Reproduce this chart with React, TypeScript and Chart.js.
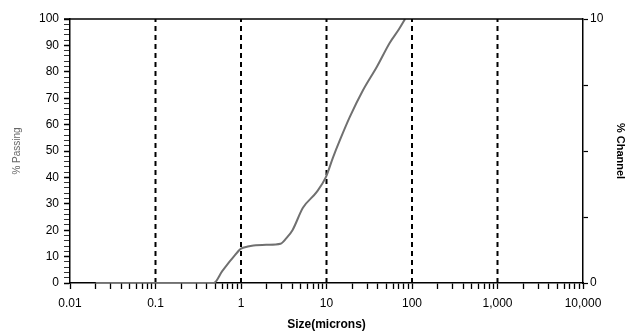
import React, { useEffect, useRef } from 'react';
import { Chart, registerables } from 'chart.js';

Chart.register(...registerables);

// Cumulative passing curve (size in microns, % passing)
const sizes = [0.02, 0.05, 0.1, 0.2, 0.3, 0.4, 0.48, 0.6, 0.69, 0.8, 1.0, 1.2, 1.4, 2.0, 2.9, 3.4, 4.0, 5.3, 7.7, 9.8, 11.9, 14.3, 18.8, 26.7, 39, 55, 70, 83];
const passing = [0, 0, 0, 0, 0, 0, 0, 4.4, 7, 9.5, 13, 13.8, 14.2, 14.5, 14.9, 17, 20, 28.5, 34.5, 40, 47.5, 54, 63, 73, 82, 91, 96, 100];

// Decade reference lines (dashed)
const vLineSizes = [0.1, 1, 10, 100, 1000];

// Axis tick labels
const xDecades = [0.01, 0.1, 1, 10, 100, 1000, 10000];
const xDecadeLabels = ['0.01', '0.1', '1', '10', '100', '1,000', '10,000'];
const leftMax = 100;
const rightMax = 10;
const rightLabels = ['0', '10'];

const FONT = '"Liberation Sans", Arial, sans-serif';

const framePlugin = {
  id: 'frameTop',
  afterDatasetsDraw(chart: any) {
    const { ctx, chartArea } = chart;
    ctx.save();
    ctx.strokeStyle = '#000';
    ctx.lineWidth = 1.5;
    ctx.beginPath();
    ctx.moveTo(chartArea.left - 6, chartArea.top);
    ctx.lineTo(chartArea.right, chartArea.top);
    ctx.stroke();
    ctx.restore();
  },
};

export default function App() {
  const ref = useRef<HTMLCanvasElement | null>(null);

  useEffect(() => {
    if (!ref.current) return;
    const vDatasets = vLineSizes.map((v) => ({
      type: 'line' as const,
      data: [
        { x: v, y: 0 },
        { x: v, y: leftMax },
      ],
      borderColor: '#000',
      borderWidth: 2,
      borderDash: [5, 4],
      pointRadius: 0,
      yAxisID: 'y',
      xAxisID: 'x',
      order: 2,
    }));

    const chart = new Chart(ref.current, {
      type: 'line',
      data: {
        datasets: [
          {
            label: '% Passing',
            data: sizes.map((s, i) => ({ x: s, y: passing[i] })),
            borderColor: '#707070',
            borderWidth: 2,
            pointRadius: 0,
            cubicInterpolationMode: 'monotone',
            yAxisID: 'y',
            xAxisID: 'x',
            order: 1,
          },
          ...vDatasets,
        ] as any,
      },
      options: {
        animation: false,
        responsive: false,
        maintainAspectRatio: false,
        layout: { padding: { top: 19, left: 0, right: 0, bottom: 0 } },
        plugins: {
          legend: { display: false },
          tooltip: { enabled: false },
        },
        scales: {
          x: {
            type: 'logarithmic',
            position: 'bottom',
            min: 0.01,
            max: 10000,
            afterBuildTicks: (scale: any) => {
              const t: any[] = [];
              for (let e = -2; e <= 4; e++) {
                for (let m = 1; m <= 9; m++) {
                  const v = Number((m * Math.pow(10, e)).toPrecision(6));
                  if (v > 10000 * 1.0001) break;
                  t.push({ value: v });
                }
              }
              scale.ticks = t;
            },
            afterFit: (scale: any) => {
              scale.height = 53;
            },
            ticks: {
              autoSkip: false,
              maxRotation: 0,
              minRotation: 0,
              padding: 7,
              color: '#000',
              font: { family: FONT, size: 12 },
              callback: (v: any) => {
                const i = xDecades.findIndex((d) => Math.abs(d - Number(v)) < d * 1e-6);
                return i >= 0 ? xDecadeLabels[i] : '';
              },
            },
            grid: {
              drawOnChartArea: false,
              drawTicks: true,
              tickLength: 6,
              tickColor: '#000',
              tickWidth: 1.3,
            },
            border: { color: '#000', width: 1.5 },
            title: {
              display: true,
              text: 'Size(microns)',
              color: '#000',
              font: { family: FONT, size: 12, weight: 'bold' },
              padding: { top: 0, bottom: 4 },
            },
          },
          y: {
            type: 'linear',
            position: 'left',
            min: 0,
            max: leftMax,
            afterFit: (scale: any) => {
              scale.width = 70;
            },
            ticks: {
              stepSize: 2,
              autoSkip: false,
              padding: 5,
              color: '#000',
              font: { family: FONT, size: 12 },
              callback: (v: any) => (Number(v) % 10 === 0 ? String(v) : ''),
            },
            grid: {
              drawOnChartArea: false,
              tickLength: 6,
              tickColor: '#000',
              tickWidth: (ctx: any) => (ctx.tick && ctx.tick.value % 10 === 0 ? 1.5 : 0.8),
            },
            border: { color: '#000', width: 1.5 },
            title: {
              display: true,
              text: '% Passing',
              color: '#666',
              font: { family: FONT, size: 10 },
              padding: { top: 11, bottom: 0 },
            },
          },
          y1: {
            type: 'linear',
            position: 'right',
            min: 0,
            max: rightMax,
            afterFit: (scale: any) => {
              scale.width = 48;
            },
            ticks: {
              stepSize: 2.5,
              autoSkip: false,
              padding: 2,
              color: '#000',
              font: { family: FONT, size: 12 },
              callback: (v: any) => {
                const n = Number(v);
                if (n === 0) return rightLabels[0];
                if (n === rightMax) return rightLabels[1];
                return '';
              },
            },
            grid: {
              drawOnChartArea: false,
              tickLength: 5,
              tickColor: '#000',
              tickWidth: 1.2,
            },
            border: { color: '#000', width: 1.5 },
            title: {
              display: true,
              text: '% Channel',
              color: '#000',
              font: { family: FONT, size: 11, weight: 'bold' },
              padding: { top: 4, bottom: 0 },
            },
          },
        },
      } as any,
      plugins: [framePlugin],
    });
    return () => chart.destroy();
  }, []);

  return (
    <div style={{ position: 'absolute', left: 0, top: 0, width: 631, height: 336, background: '#fff' }}>
      <canvas ref={ref} width={631} height={336} />
    </div>
  );
}
